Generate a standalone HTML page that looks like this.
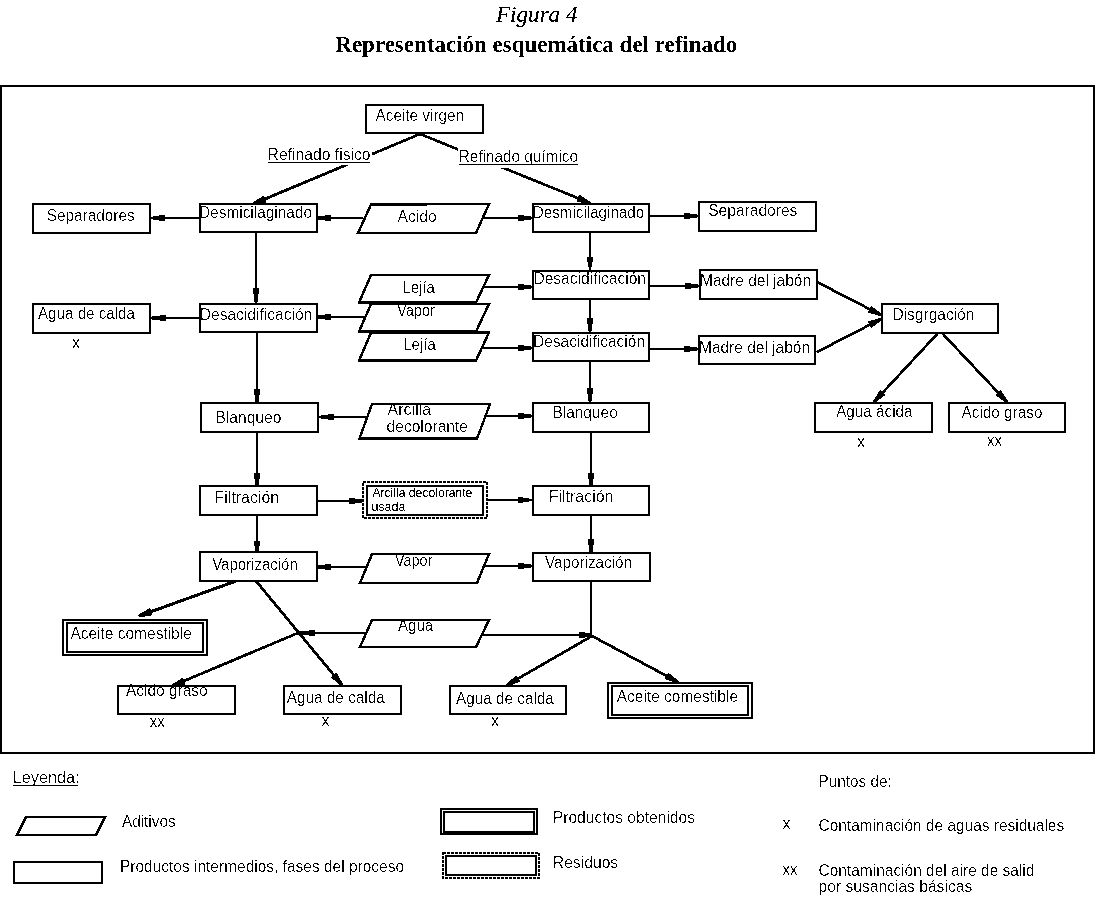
<!DOCTYPE html>
<html><head><meta charset="utf-8"><title>Figura 4</title>
<style>
html,body{margin:0;padding:0;background:#fff;}
body{width:1095px;height:900px;overflow:hidden;position:relative;}
svg{position:absolute;left:0;top:0;will-change:transform;}
svg text{font-family:"Liberation Sans",sans-serif;fill:#000;}
</style></head>
<body>
<svg width="1095" height="900" viewBox="0 0 1095 900">
<defs><filter id="crisp" x="-5%" y="-5%" width="110%" height="110%"><feComponentTransfer><feFuncA type="discrete" tableValues="0 0 0 1 1"/></feComponentTransfer></filter><filter id="crisp2" x="-5%" y="-5%" width="110%" height="110%"><feComponentTransfer><feFuncA type="discrete" tableValues="0 1"/></feComponentTransfer></filter><filter id="bin" filterUnits="userSpaceOnUse" x="0" y="0" width="1095" height="900"><feComponentTransfer><feFuncR type="discrete" tableValues="0 1"/><feFuncG type="discrete" tableValues="0 1"/><feFuncB type="discrete" tableValues="0 1"/></feComponentTransfer></filter><filter id="crisp3" x="-5%" y="-5%" width="110%" height="110%"><feComponentTransfer><feFuncA type="discrete" tableValues="0 0 1 1 1"/></feComponentTransfer></filter></defs>
<rect x="0" y="0" width="1095" height="900" fill="#fff"/>
<g filter="url(#bin)">
<rect x="0" y="0" width="1095" height="900" fill="#fff"/>
<rect x="1" y="86" width="1093" height="667" fill="#fff" stroke="#000" stroke-width="2"/>
<line x1="420" y1="134" x2="253" y2="204" stroke="#000" stroke-width="2.4"/>
<polygon points="252.54,202.89 263.64,195.75 266.34,202.20 253.46,205.11" fill="#000"/>
<line x1="420" y1="134" x2="590" y2="203" stroke="#000" stroke-width="2.4"/>
<polygon points="589.55,204.11 576.64,201.35 579.27,194.87 590.45,201.89" fill="#000"/>
<rect x="268" y="146" width="104" height="19" fill="#fff"/>
<rect x="458" y="148" width="122" height="20" fill="#fff"/>
<line x1="268.5" y1="162.5" x2="370" y2="162.5" stroke="#000" stroke-width="1"/>
<line x1="459" y1="164.5" x2="578" y2="164.5" stroke="#000" stroke-width="1"/>
<line x1="199" y1="218" x2="151" y2="218" stroke="#000" stroke-width="2"/>
<polygon points="153.00,216.00 159.00,216.00 159.00,215.00 165.00,215.00 165.00,221.00 159.00,221.00 159.00,220.00 153.00,220.00" fill="#000"/>
<line x1="363" y1="218" x2="318" y2="218" stroke="#000" stroke-width="2"/>
<polygon points="318.00,216.00 325.00,216.00 325.00,215.00 331.00,215.00 331.00,221.00 325.00,221.00 325.00,220.00 318.00,220.00" fill="#000"/>
<line x1="482" y1="218" x2="532" y2="218" stroke="#000" stroke-width="2"/>
<polygon points="531.00,220.00 524.00,220.00 524.00,221.00 518.00,221.00 518.00,215.00 524.00,215.00 524.00,216.00 531.00,216.00" fill="#000"/>
<line x1="650" y1="216" x2="698" y2="216" stroke="#000" stroke-width="2"/>
<polygon points="697.00,218.00 690.00,218.00 690.00,219.00 684.00,219.00 684.00,213.00 690.00,213.00 690.00,214.00 697.00,214.00" fill="#000"/>
<line x1="256" y1="233" x2="256" y2="303" stroke="#000" stroke-width="2"/>
<polygon points="254.00,302.00 254.00,294.00 253.00,294.00 253.00,288.00 259.00,288.00 259.00,294.00 258.00,294.00 258.00,302.00" fill="#000"/>
<line x1="590" y1="233" x2="590" y2="270" stroke="#000" stroke-width="2"/>
<polygon points="588.00,267.00 588.00,262.00 587.00,262.00 587.00,257.00 593.00,257.00 593.00,262.00 592.00,262.00 592.00,267.00" fill="#000"/>
<line x1="482" y1="287" x2="532" y2="287" stroke="#000" stroke-width="2"/>
<polygon points="531.00,289.00 524.00,289.00 524.00,290.00 518.00,290.00 518.00,284.00 524.00,284.00 524.00,285.00 531.00,285.00" fill="#000"/>
<line x1="650" y1="286" x2="699" y2="286" stroke="#000" stroke-width="2"/>
<polygon points="698.00,288.00 691.00,288.00 691.00,289.00 685.00,289.00 685.00,283.00 691.00,283.00 691.00,284.00 698.00,284.00" fill="#000"/>
<line x1="590" y1="300" x2="590" y2="332" stroke="#000" stroke-width="2"/>
<polygon points="588.00,331.00 588.00,324.00 587.00,324.00 587.00,318.00 593.00,318.00 593.00,324.00 592.00,324.00 592.00,331.00" fill="#000"/>
<line x1="482" y1="348" x2="532" y2="348" stroke="#000" stroke-width="2"/>
<polygon points="531.00,350.00 524.00,350.00 524.00,351.00 518.00,351.00 518.00,345.00 524.00,345.00 524.00,346.00 531.00,346.00" fill="#000"/>
<line x1="650" y1="349" x2="698" y2="349" stroke="#000" stroke-width="2"/>
<polygon points="697.00,351.00 690.00,351.00 690.00,352.00 684.00,352.00 684.00,346.00 690.00,346.00 690.00,347.00 697.00,347.00" fill="#000"/>
<line x1="364" y1="317" x2="318" y2="317" stroke="#000" stroke-width="2"/>
<polygon points="318.00,315.00 325.00,315.00 325.00,314.00 331.00,314.00 331.00,320.00 325.00,320.00 325.00,319.00 318.00,319.00" fill="#000"/>
<line x1="199" y1="318" x2="151" y2="318" stroke="#000" stroke-width="2"/>
<polygon points="152.00,316.00 160.00,316.00 160.00,315.00 166.00,315.00 166.00,321.00 160.00,321.00 160.00,320.00 152.00,320.00" fill="#000"/>
<line x1="817" y1="282" x2="881" y2="315" stroke="#000" stroke-width="2.4"/>
<polygon points="880.45,316.07 867.84,312.15 871.05,305.93 881.55,313.93" fill="#000"/>
<line x1="817" y1="352" x2="881" y2="319" stroke="#000" stroke-width="2.4"/>
<polygon points="881.55,320.07 871.05,328.07 867.84,321.85 880.45,317.93" fill="#000"/>
<line x1="938" y1="333" x2="874" y2="402" stroke="#000" stroke-width="2.4"/>
<polygon points="873.12,401.18 880.27,390.09 885.41,394.85 874.88,402.82" fill="#000"/>
<line x1="942" y1="333" x2="1007" y2="402" stroke="#000" stroke-width="2.4"/>
<polygon points="1006.13,402.82 995.54,394.94 1000.63,390.14 1007.87,401.18" fill="#000"/>
<line x1="257" y1="333" x2="257" y2="402" stroke="#000" stroke-width="2"/>
<polygon points="255.00,402.00 255.00,395.00 254.00,395.00 254.00,389.00 260.00,389.00 260.00,395.00 259.00,395.00 259.00,402.00" fill="#000"/>
<line x1="366" y1="417" x2="319" y2="417" stroke="#000" stroke-width="2"/>
<polygon points="321.00,415.00 328.00,415.00 328.00,414.00 334.00,414.00 334.00,420.00 328.00,420.00 328.00,419.00 321.00,419.00" fill="#000"/>
<line x1="484" y1="416" x2="532" y2="416" stroke="#000" stroke-width="2"/>
<polygon points="531.00,418.00 524.00,418.00 524.00,419.00 518.00,419.00 518.00,413.00 524.00,413.00 524.00,414.00 531.00,414.00" fill="#000"/>
<line x1="590" y1="362" x2="590" y2="402" stroke="#000" stroke-width="2"/>
<polygon points="588.00,401.00 588.00,394.00 587.00,394.00 587.00,388.00 593.00,388.00 593.00,394.00 592.00,394.00 592.00,401.00" fill="#000"/>
<line x1="257" y1="432" x2="257" y2="486" stroke="#000" stroke-width="2"/>
<polygon points="255.00,486.00 255.00,479.00 254.00,479.00 254.00,473.00 260.00,473.00 260.00,479.00 259.00,479.00 259.00,486.00" fill="#000"/>
<line x1="591" y1="432" x2="591" y2="486" stroke="#000" stroke-width="2"/>
<polygon points="589.00,486.00 589.00,479.00 588.00,479.00 588.00,473.00 594.00,473.00 594.00,479.00 593.00,479.00 593.00,486.00" fill="#000"/>
<line x1="318" y1="501" x2="362" y2="501" stroke="#000" stroke-width="2"/>
<polygon points="362.00,503.00 355.00,503.00 355.00,504.00 349.00,504.00 349.00,498.00 355.00,498.00 355.00,499.00 362.00,499.00" fill="#000"/>
<line x1="488" y1="500" x2="532" y2="500" stroke="#000" stroke-width="2"/>
<polygon points="529.00,502.00 523.00,502.00 523.00,503.00 518.00,503.00 518.00,497.00 523.00,497.00 523.00,498.00 529.00,498.00" fill="#000"/>
<line x1="257" y1="515" x2="257" y2="552" stroke="#000" stroke-width="2"/>
<polygon points="255.00,552.00 255.00,546.00 254.00,546.00 254.00,541.00 260.00,541.00 260.00,546.00 259.00,546.00 259.00,552.00" fill="#000"/>
<line x1="591" y1="515" x2="591" y2="552" stroke="#000" stroke-width="2"/>
<polygon points="589.00,552.00 589.00,545.00 588.00,545.00 588.00,539.00 594.00,539.00 594.00,545.00 593.00,545.00 593.00,552.00" fill="#000"/>
<line x1="366" y1="567" x2="318" y2="567" stroke="#000" stroke-width="2"/>
<polygon points="318.00,565.00 325.00,565.00 325.00,564.00 331.00,564.00 331.00,570.00 325.00,570.00 325.00,569.00 318.00,569.00" fill="#000"/>
<line x1="483" y1="566" x2="532" y2="566" stroke="#000" stroke-width="2"/>
<polygon points="531.00,568.00 524.00,568.00 524.00,569.00 518.00,569.00 518.00,563.00 524.00,563.00 524.00,564.00 531.00,564.00" fill="#000"/>
<line x1="236" y1="581" x2="139" y2="616" stroke="#000" stroke-width="2.4"/>
<polygon points="138.59,614.87 150.04,608.30 152.42,614.88 139.41,617.13" fill="#000"/>
<line x1="256" y1="581" x2="342" y2="685" stroke="#000" stroke-width="2.4"/>
<polygon points="341.08,685.76 331.02,677.21 336.41,672.75 342.92,684.24" fill="#000"/>
<line x1="366" y1="633" x2="298" y2="633" stroke="#000" stroke-width="2"/>
<polygon points="298.00,631.00 309.00,631.00 309.00,630.00 315.00,630.00 315.00,636.00 309.00,636.00 309.00,635.00 298.00,635.00" fill="#000"/>
<line x1="298" y1="633" x2="172" y2="686" stroke="#000" stroke-width="2.4"/>
<polygon points="171.53,684.89 182.63,677.73 185.34,684.19 172.47,687.11" fill="#000"/>
<line x1="591" y1="581" x2="591" y2="636" stroke="#000" stroke-width="2"/>
<line x1="483" y1="635" x2="592" y2="635" stroke="#000" stroke-width="2"/>
<polygon points="592.00,637.00 585.00,637.00 585.00,638.00 579.00,638.00 579.00,632.00 585.00,632.00 585.00,633.00 592.00,633.00" fill="#000"/>
<line x1="592" y1="636" x2="507" y2="685" stroke="#000" stroke-width="2.4"/>
<polygon points="506.40,683.96 516.51,675.48 520.01,681.54 507.60,686.04" fill="#000"/>
<line x1="592" y1="636" x2="678" y2="682" stroke="#000" stroke-width="2.4"/>
<polygon points="677.43,683.06 664.89,678.95 668.19,672.78 678.57,680.94" fill="#000"/>
<rect x="366" y="105" width="117" height="28" fill="#fff" stroke="#000" stroke-width="2"/>
<rect x="33" y="204" width="117" height="29" fill="#fff" stroke="#000" stroke-width="2"/>
<rect x="200" y="204" width="117" height="28" fill="#fff" stroke="#000" stroke-width="2"/>
<polygon points="371,204.5 489,204 476,233 358,233" fill="#fff" stroke="#000" stroke-width="2" stroke-linejoin="miter"/>
<rect x="533" y="204" width="116" height="28" fill="#fff" stroke="#000" stroke-width="2"/>
<rect x="699" y="202" width="117" height="29" fill="#fff" stroke="#000" stroke-width="2"/>
<rect x="33" y="304" width="117" height="29" fill="#fff" stroke="#000" stroke-width="2"/>
<rect x="200" y="304" width="117" height="28" fill="#fff" stroke="#000" stroke-width="2"/>
<polygon points="371,275 489,275 476,302.5 359,302.5" fill="#fff" stroke="#000" stroke-width="2" stroke-linejoin="miter"/>
<polygon points="371,304 489,304 476,331.5 359,331.5" fill="#fff" stroke="#000" stroke-width="2" stroke-linejoin="miter"/>
<polygon points="371,332.5 489,332.5 476,360.5 359,360.5" fill="#fff" stroke="#000" stroke-width="2" stroke-linejoin="miter"/>
<rect x="533" y="271" width="116" height="28" fill="#fff" stroke="#000" stroke-width="2"/>
<rect x="533" y="333" width="116" height="28" fill="#fff" stroke="#000" stroke-width="2"/>
<rect x="700" y="270" width="117" height="29" fill="#fff" stroke="#000" stroke-width="2"/>
<rect x="699" y="336" width="116" height="28" fill="#fff" stroke="#000" stroke-width="2"/>
<rect x="882" y="304" width="116" height="29" fill="#fff" stroke="#000" stroke-width="2"/>
<rect x="815" y="403" width="117" height="29" fill="#fff" stroke="#000" stroke-width="2"/>
<rect x="949" y="403" width="116" height="29" fill="#fff" stroke="#000" stroke-width="2"/>
<rect x="201" y="403" width="117" height="29" fill="#fff" stroke="#000" stroke-width="2"/>
<polygon points="372,404 490,404 477,438.5 359.5,438.5" fill="#fff" stroke="#000" stroke-width="2" stroke-linejoin="miter"/>
<rect x="533" y="403" width="116" height="29" fill="#fff" stroke="#000" stroke-width="2"/>
<rect x="200" y="486" width="117" height="29" fill="#fff" stroke="#000" stroke-width="2"/>
<rect x="363" y="482" width="124" height="36" fill="#fff" stroke="#000" stroke-width="2" stroke-dasharray="3 1"/>
<rect x="367" y="486" width="116" height="29" fill="#fff" stroke="#000" stroke-width="2"/>
<rect x="533" y="486" width="116" height="29" fill="#fff" stroke="#000" stroke-width="2"/>
<rect x="200" y="552" width="117" height="29" fill="#fff" stroke="#000" stroke-width="2"/>
<polygon points="372,554 489,554 477,583 360,583" fill="#fff" stroke="#000" stroke-width="2" stroke-linejoin="miter"/>
<rect x="533" y="553" width="117" height="28" fill="#fff" stroke="#000" stroke-width="2"/>
<rect x="63" y="620" width="144" height="35" fill="#fff" stroke="#000" stroke-width="2"/>
<rect x="67" y="623" width="136" height="29" fill="#fff" stroke="#000" stroke-width="2"/>
<polygon points="372,620 489,620 476,647 360,647" fill="#fff" stroke="#000" stroke-width="2" stroke-linejoin="miter"/>
<rect x="118" y="686" width="117" height="28" fill="#fff" stroke="#000" stroke-width="2"/>
<rect x="284" y="686" width="117" height="28" fill="#fff" stroke="#000" stroke-width="2"/>
<rect x="450" y="686" width="116" height="28" fill="#fff" stroke="#000" stroke-width="2"/>
<rect x="608" y="683" width="144" height="35" fill="#fff" stroke="#000" stroke-width="2"/>
<rect x="612" y="686" width="136" height="29" fill="#fff" stroke="#000" stroke-width="2"/>
<line x1="13" y1="785.5" x2="78" y2="785.5" stroke="#000" stroke-width="1"/>
<polygon points="26,817 105,817 96,835 17,835" fill="#fff" stroke="#000" stroke-width="2" stroke-linejoin="miter"/>
<rect x="14" y="862" width="88" height="21" fill="#fff" stroke="#000" stroke-width="2"/>
<rect x="441" y="809" width="96" height="25" fill="#fff" stroke="#000" stroke-width="2"/>
<rect x="444" y="812" width="90" height="20" fill="#fff" stroke="#000" stroke-width="2"/>
<rect x="443" y="853" width="96" height="25" fill="#fff" stroke="#000" stroke-width="2" stroke-dasharray="3 1"/>
<rect x="446" y="856" width="90" height="19" fill="#fff" stroke="#000" stroke-width="2"/>
</g>
<g filter="url(#crisp)">
<text x="267.6" y="159.7" font-size="16" textLength="103.0" lengthAdjust="spacingAndGlyphs">Refinado fisico</text>
<text x="458.8" y="161.8" font-size="16" textLength="119.2" lengthAdjust="spacingAndGlyphs">Refinado químico</text>
<text x="375.6" y="121.3" font-size="16" textLength="88.4" lengthAdjust="spacingAndGlyphs">Aceite virgen</text>
<text x="46.8" y="221" font-size="16" textLength="87.8" lengthAdjust="spacingAndGlyphs">Separadores</text>
<text x="199.0" y="218" font-size="16" textLength="113.0" lengthAdjust="spacingAndGlyphs">Desmicilaginado</text>
<text x="397.6" y="222" font-size="16" textLength="39.0" lengthAdjust="spacingAndGlyphs">Acido</text>
<text x="532.8" y="218.4" font-size="16" textLength="111.4" lengthAdjust="spacingAndGlyphs">Desmicilaginado</text>
<text x="708.2" y="215.6" font-size="16" textLength="89.2" lengthAdjust="spacingAndGlyphs">Separadores</text>
<text x="38.0" y="318.8" font-size="16" textLength="97.0" lengthAdjust="spacingAndGlyphs">Agua de calda</text>
<text x="72.0" y="347.5" font-size="16">x</text>
<text x="199.8" y="319.6" font-size="16" textLength="112.4" lengthAdjust="spacingAndGlyphs">Desacidificación</text>
<text x="402.4" y="292.9" font-size="16" textLength="32.6" lengthAdjust="spacingAndGlyphs">Lejía</text>
<text x="397.0" y="315.7" font-size="16" textLength="38.0" lengthAdjust="spacingAndGlyphs">Vapor</text>
<text x="403.2" y="350.4" font-size="16" textLength="32.6" lengthAdjust="spacingAndGlyphs">Lejía</text>
<text x="533.4" y="284.4" font-size="16" textLength="112.6" lengthAdjust="spacingAndGlyphs">Desacidificación</text>
<text x="533.0" y="346.5" font-size="16" textLength="112.0" lengthAdjust="spacingAndGlyphs">Desacidificación</text>
<text x="700.0" y="285.7" font-size="16" textLength="111.0" lengthAdjust="spacingAndGlyphs">Madre del jabón</text>
<text x="699.0" y="352.7" font-size="16" textLength="111.0" lengthAdjust="spacingAndGlyphs">Madre del jabón</text>
<text x="892.4" y="320.2" font-size="16" textLength="82.0" lengthAdjust="spacingAndGlyphs">Disgrgación</text>
<text x="836.2" y="416.7" font-size="16" textLength="76.4" lengthAdjust="spacingAndGlyphs">Agua ácida</text>
<text x="857.0" y="446.5" font-size="16">x</text>
<text x="961.6" y="418.4" font-size="16" textLength="80.8" lengthAdjust="spacingAndGlyphs">Acido graso</text>
<text x="987.0" y="446" font-size="16" textLength="15.0" lengthAdjust="spacingAndGlyphs">xx</text>
<text x="215.4" y="422.9" font-size="16" textLength="66.0" lengthAdjust="spacingAndGlyphs">Blanqueo</text>
<text x="387.6" y="414.7" font-size="16">Arcilla</text>
<text x="386.6" y="432.4" font-size="16" textLength="81.4" lengthAdjust="spacingAndGlyphs">decolorante</text>
<text x="552.4" y="417.8" font-size="16" textLength="65.4" lengthAdjust="spacingAndGlyphs">Blanqueo</text>
<text x="214.6" y="502.7" font-size="16" textLength="64.6" lengthAdjust="spacingAndGlyphs">Filtración</text>
<text x="548.8" y="501.8" font-size="16" textLength="64.6" lengthAdjust="spacingAndGlyphs">Filtración</text>
<text x="212.2" y="569.8" font-size="16" textLength="85.6" lengthAdjust="spacingAndGlyphs">Vaporización</text>
<text x="395.0" y="565.6" font-size="16" textLength="37.2" lengthAdjust="spacingAndGlyphs">Vapor</text>
<text x="545.0" y="567.5" font-size="16" textLength="87.0" lengthAdjust="spacingAndGlyphs">Vaporización</text>
<text x="70.4" y="639" font-size="16" textLength="121.4" lengthAdjust="spacingAndGlyphs">Aceite comestible</text>
<text x="398.0" y="630.8" font-size="16" textLength="35.2" lengthAdjust="spacingAndGlyphs">Agua</text>
<text x="126.0" y="696" font-size="16" textLength="81.6" lengthAdjust="spacingAndGlyphs">Acido graso</text>
<text x="149.8" y="726.5" font-size="16" textLength="15.0" lengthAdjust="spacingAndGlyphs">xx</text>
<text x="286.8" y="702.6" font-size="16" textLength="98.0" lengthAdjust="spacingAndGlyphs">Agua de calda</text>
<text x="321.4" y="725.7" font-size="16">x</text>
<text x="456.0" y="703.8" font-size="16" textLength="97.8" lengthAdjust="spacingAndGlyphs">Agua de calda</text>
<text x="491.0" y="725.5" font-size="16">x</text>
<text x="616.8" y="702" font-size="16" textLength="121.2" lengthAdjust="spacingAndGlyphs">Aceite comestible</text>
<text x="12.8" y="782.8" font-size="16" textLength="66.6" lengthAdjust="spacingAndGlyphs">Leyenda:</text>
<text x="122.0" y="827.2" font-size="16" textLength="53.6" lengthAdjust="spacingAndGlyphs">Aditivos</text>
<text x="120.0" y="871.8" font-size="16" textLength="284.0" lengthAdjust="spacingAndGlyphs">Productos intermedios, fases del proceso</text>
<text x="552.8" y="822.9" font-size="16" textLength="142.2" lengthAdjust="spacingAndGlyphs">Productos obtenidos</text>
<text x="552.8" y="868.1" font-size="16" textLength="65.4" lengthAdjust="spacingAndGlyphs">Residuos</text>
<text x="818.6" y="787.3" font-size="16" textLength="73.2" lengthAdjust="spacingAndGlyphs">Puntos de:</text>
<text x="782.6" y="828.9" font-size="16">x</text>
<text x="818.6" y="831.2" font-size="16" textLength="245.6" lengthAdjust="spacingAndGlyphs">Contaminación de aguas residuales</text>
<text x="782.6" y="875.2" font-size="16" textLength="15.0" lengthAdjust="spacingAndGlyphs">xx</text>
<text x="818.6" y="875.8" font-size="16" textLength="215.8" lengthAdjust="spacingAndGlyphs">Contaminación del aire de salid</text>
<text x="818.6" y="892.1" font-size="16" textLength="153.6" lengthAdjust="spacingAndGlyphs">por susancias básicas</text>
</g>
<g filter="url(#crisp2)">
<text x="372.4" y="496.9" font-size="12.5" textLength="100.0" lengthAdjust="spacingAndGlyphs">Arcilla decolorante</text>
<text x="371.4" y="510.9" font-size="12.5">usada</text>
</g>
<g filter="url(#crisp3)"><text x="496" y="22" font-size="24" font-style="italic" textLength="81.5" lengthAdjust="spacingAndGlyphs" style="font-family:'Liberation Serif',serif">Figura 4</text></g><g filter="url(#crisp2)">
<text x="335.3" y="51.8" font-size="24" font-weight="bold" textLength="402" lengthAdjust="spacingAndGlyphs" style="font-family:'Liberation Serif',serif">Representación esquemática del refinado</text>
</g>
</svg>
</body></html>
